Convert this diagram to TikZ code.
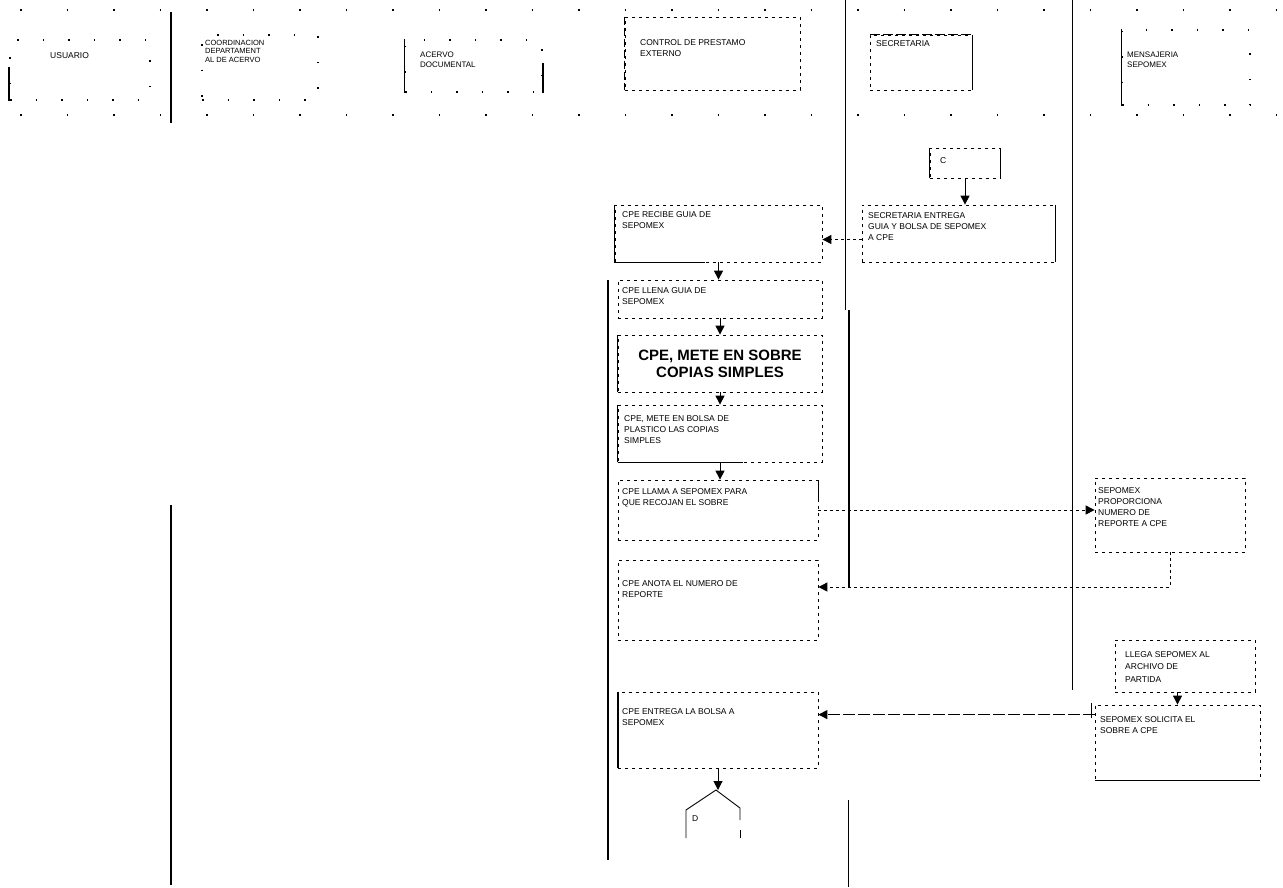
\documentclass[tikz,border=0pt]{standalone}
\usepackage{fontspec}
\setmainfont{Liberation Sans}
\usetikzlibrary{arrows.meta,calc}
\begin{document}
\begin{tikzpicture}[x=1pt,y=-1pt,
  box/.style={draw,line width=.8pt,dash pattern=on 3pt off 4pt,inner sep=0pt},
  hbox/.style={draw,line width=1.2pt,dash pattern=on 1.5pt off 24pt,inner sep=0pt},
  lbl/.style={font=\fontsize{8.5}{11}\selectfont,align=left,inner sep=0pt,anchor=north west},
  hlbl/.style={font=\fontsize{7.5}{8.5}\selectfont,align=left,inner sep=0pt,anchor=north west},
  solidside/.style={line width=1pt},
  heavyside/.style={line width=2pt},
  arr/.style={line width=1pt,-{Triangle[length=9pt,width=9pt]}},
  darr/.style={arr,dash pattern=on 3pt off 3pt},
  lane/.style={line width=.8pt},
  thicklane/.style={line width=2pt},
  sparse/.style={line width=1.4pt,dash pattern=on 1.5pt off 45pt}]
\useasboundingbox (0,0) rectangle (1283,887);

% header dotted rules
\draw[sparse] (20,10) -- (1283,10);
\draw[sparse] (20,115) -- (1283,115);

% lane lines
\draw[thicklane] (171,12) -- (171,123);
\draw[thicklane] (171,505) -- (171,885);
\draw[lane] (845,0) -- (845,310);
\draw[thicklane] (849,310) -- (849,587);
\draw[lane] (1072,0) -- (1072,690);
\draw[thicklane] (608,280) -- (608,860);
\draw[lane] (848,800) -- (848,887);

% header cells
\node[hbox,minimum width=140,minimum height=60] (hUSU) at (80,70) {};
\draw[heavyside] ($(hUSU.north west)+(0,28)$) -- (hUSU.south west);
\node[hlbl,font=\fontsize{8.5}{10}\selectfont] at (50,52) {USUARIO};

\node[hbox,minimum width=116,minimum height=65] (hCOO) at (260,67.5) {};
\node[hlbl] at (205,40) {COORDINACION\\DEPARTAMENT\\AL DE ACERVO};

\node[hbox,minimum width=137,minimum height=52] (hACE) at (473.5,66) {};
\draw[solidside] (hACE.north west) -- (hACE.south west);
\draw[heavyside] ($(hACE.north east)+(0,24)$) -- (hACE.south east);
\node[hlbl,font=\fontsize{8}{9.5}\selectfont] at (420,52) {ACERVO\\DOCUMENTAL};

\node[box,minimum width=175,minimum height=73] (hCPE) at (712.5,53.5) {};
\draw[solidside,dash pattern=on 8pt off 3pt] (hCPE.north west) -- (hCPE.south west);
\node[lbl] at (640,39) {CONTROL DE PRESTAMO\\EXTERNO};

\node[box,minimum width=102,minimum height=55] (hSEC) at (921,62.5) {};
\draw[solidside,dash pattern=on 10pt off 3pt] (hSEC.north west) -- (hSEC.north east);
\draw[solidside] (hSEC.north east) -- (hSEC.south east);
\node[lbl] at (876,40) {SECRETARIA};

\node[hbox,minimum width=128,minimum height=75] (hMEN) at (1186,67.5) {};
\draw[solidside] (hMEN.north west) -- (hMEN.south west);
\node[hlbl,font=\fontsize{8}{10}\selectfont] at (1127,52) {MENSAJERIA\\SEPOMEX};

% flow boxes
\node[box,minimum width=70,minimum height=30] (cC) at (965,163) {};
\draw[solidside] (cC.north west) -- (cC.south west);
\draw[solidside] (cC.north east) -- (cC.south east);
\node[lbl] at (940,157) {C};

\node[box,minimum width=193,minimum height=57] (B) at (958.5,233.5) {};
\draw[solidside] (B.north east) -- (B.south east);
\node[lbl] at (868,212) {SECRETARIA ENTREGA\\GUIA Y BOLSA DE SEPOMEX\\A CPE};

\node[box,minimum width=207,minimum height=57] (C) at (718.5,233.5) {};
\draw[solidside] (C.north west) -- (C.south west) -- ($(C.south west)+(90,0)$);
\node[lbl] at (622,211) {CPE RECIBE GUIA DE\\SEPOMEX};

\node[box,minimum width=204,minimum height=38] (D) at (720,299) {};
\node[lbl] at (622,287) {CPE LLENA GUIA DE\\SEPOMEX};

\node[box,minimum width=204,minimum height=57] (E) at (720,363.5) {};
\draw[solidside] (E.north west) -- (E.south west);
\node[font=\fontsize{15}{17}\selectfont\bfseries,align=center,inner sep=0pt] at (E.center) {CPE, METE EN SOBRE\\COPIAS SIMPLES};

\node[box,minimum width=204,minimum height=57] (F) at (720,433.5) {};
\draw[solidside] (F.south west) -- ($(F.south west)+(125,0)$);
\draw[solidside] (F.north west) -- (F.south west);
\node[lbl] at (624,415) {CPE, METE EN BOLSA DE\\PLASTICO LAS COPIAS\\SIMPLES};

\node[box,minimum width=200,minimum height=60] (G) at (718,510) {};
\draw[solidside] (G.north east) -- ($(G.north east)+(0,22)$);
\node[lbl] at (622,488) {CPE LLAMA A SEPOMEX PARA\\QUE RECOJAN EL SOBRE};

\node[box,minimum width=150,minimum height=74] (H) at (1170,515) {};
\node[lbl] at (1098,487) {SEPOMEX\\PROPORCIONA\\NUMERO DE\\REPORTE A CPE};

\node[box,minimum width=200,minimum height=80] (I) at (718,600) {};
\node[lbl] at (622,580) {CPE ANOTA EL NUMERO DE\\REPORTE};

\node[box,minimum width=140,minimum height=52] (J) at (1185,666) {};
\node[lbl,font=\fontsize{8.5}{12.5}\selectfont] at (1125,651) {LLEGA SEPOMEX AL\\ARCHIVO DE\\PARTIDA};

\node[box,minimum width=165,minimum height=75] (K) at (1177.5,742.5) {};
\draw[solidside] (K.south west) -- (K.south east);
\draw[solidside] ($(K.north west)+(-3,-2)$) -- ($(K.north west)+(-3,13)$);
\node[lbl] at (1100,716) {SEPOMEX SOLICITA EL\\SOBRE A CPE};

\node[box,minimum width=200,minimum height=76] (L) at (718,730) {};
\draw[heavyside] (L.north west) -- (L.south west);
\node[lbl] at (622,708) {CPE ENTREGA LA BOLSA A\\SEPOMEX};

% off-page connector
\coordinate (Mtop) at (716,790);
\draw[line width=.9pt] (686,838) -- (686,810) -- (Mtop) -- (740,808) -- (740,820);
\draw[line width=.9pt] (740,830) -- (740,838);
\node[lbl] at (692,815) {D};

% connectors
\draw[arr] (cC.south) -- (cC.south |- B.north);
\draw[darr] ($(B.west)+(0,6)$) -- ($(C.east)+(0,6)$);
\draw[arr] (C.south) -- (C.south |- D.north);
\draw[arr] (D.south) -- (D.south |- E.north);
\draw[arr] (E.south) -- (E.south |- F.north);
\draw[arr] (F.south) -- (F.south |- G.north);
\draw[darr] (G.east) -- (G.east -| H.west);
\draw[darr] (H.south) |- ($(I.east)+(0,-13)$);
\draw[arr] (J.south -| K.north) -- (K.north);
\draw[darr,dash pattern=on 12pt off 3pt] ($(K.north west)+(0,10)$) -- ($(L.north east)+(0,23)$);
\draw[arr] (L.south) -- (L.south |- Mtop);
\end{tikzpicture}
\end{document}
